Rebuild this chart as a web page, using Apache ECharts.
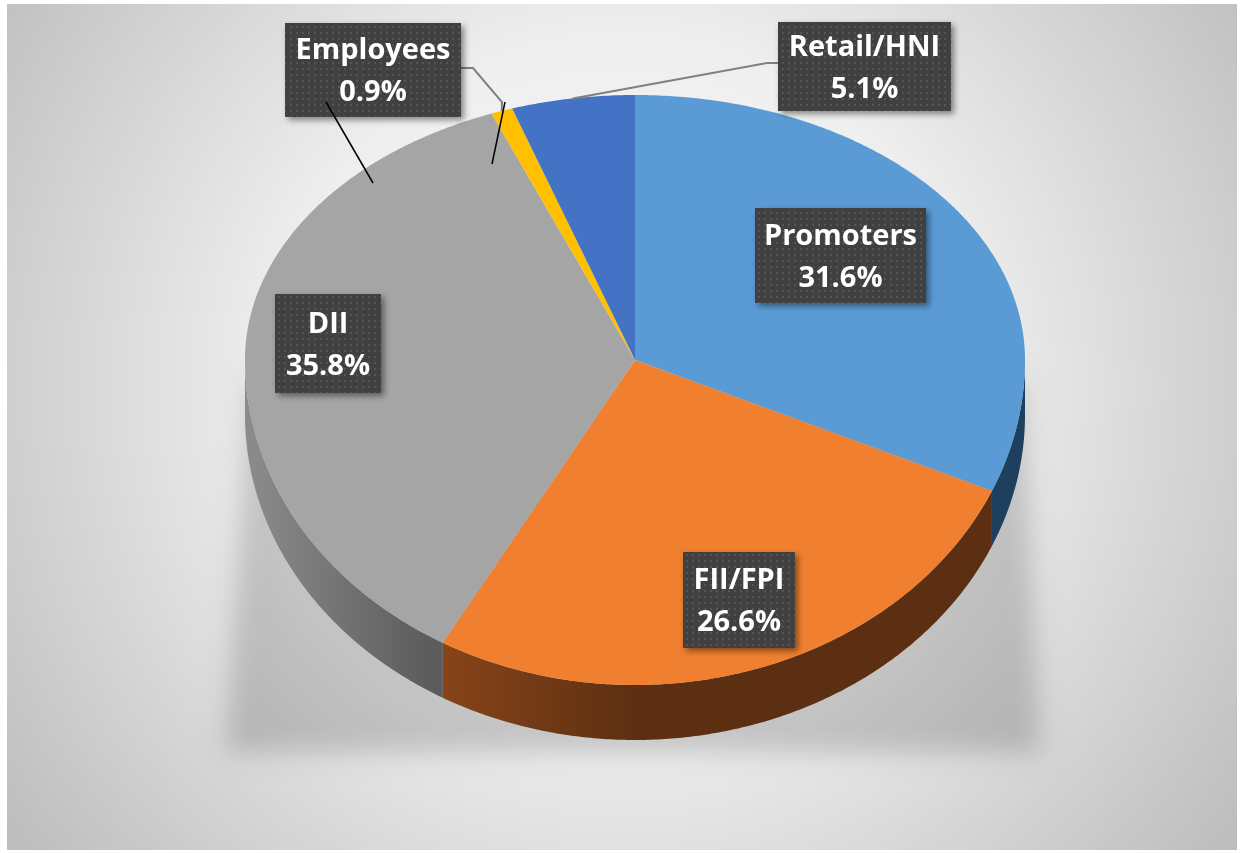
<!DOCTYPE html>
<html><head><meta charset="utf-8">
<script src="https://cdn.jsdelivr.net/npm/echarts@6/dist/echarts.min.js"></script>
<style>html,body{margin:0;padding:0;background:#fff}#c{width:1244px;height:853px}</style>
</head><body><div id="c"></div>
<script>
// ---- data ----
const categories = ['Promoters', 'FII/FPI', 'DII', 'Employees', 'Retail/HNI'];
const shares = [31.6, 26.6, 35.8, 0.9, 5.1];

// ---- styling / layout ----
const topColors = ['#5B9BD5', '#F08030', '#A5A5A5', '#FFC000', '#4472C4'];
const sideColors = [
  '#1F3F5E',
  {type:'linear', x:430, y:0, x2:640, y2:0, global:true, colorStops:[{offset:0,color:'#8A4519'},{offset:1,color:'#5C2F12'}]},
  {type:'linear', x:245, y:0, x2:430, y2:0, global:true, colorStops:[{offset:0,color:'#8C8C8C'},{offset:1,color:'#5C5C5C'}]},
  '#B38600',
  '#2F528F'
];
// label boxes [x, y, w, h] and leader polylines (layout only)
const labelBoxes = [[755,208,171,95],[683,552,112,96],[275,294,106,99],[285,23,176,94],[778,22,173,89]];
const leaders = [null, null, null, [[461,68],[473,68],[502,102]], [[778,63],[767,63]]];

const CX = 635, CY = 360, RX = 390, RY_TOP = 265, RY_BOT = 325, DEPTH = 55;
function pt(deg, dy) {
  const a = deg * Math.PI / 180, s = Math.sin(a);
  return [CX + RX * Math.cos(a), CY + (s < 0 ? RY_TOP : RY_BOT) * s + (dy || 0)];
}
function arc(a1, a2, dy) {
  const pts = [];
  const n = Math.max(2, Math.ceil(Math.abs(a2 - a1) / 0.5));
  for (let i = 0; i <= n; i++) pts.push(pt(a1 + (a2 - a1) * i / n, dy));
  return pts;
}

// dotted pattern for label boxes
const pc = document.createElement('canvas'); pc.width = 6; pc.height = 6;
const g = pc.getContext('2d');
g.fillStyle = '#404040'; g.fillRect(0, 0, 6, 6);
g.fillStyle = '#555555'; g.fillRect(2, 2, 2, 2);

const total = shares.reduce((a, b) => a + b, 0);
const starts = []; let acc = 0;
shares.forEach(v => { starts.push(-90 + acc / total * 360); acc += v; });

function renderItem(params, api) {
  const i = params.dataIndex;
  const v = api.value(0);
  const a1 = starts[i], a2 = a1 + v / total * 360;
  const children = [];
  const s1 = Math.max(a1, 0), s2 = Math.min(a2, 180);
  if (s2 > s1) {
    const top = arc(s1, s2, 0), bot = arc(s2, s1, DEPTH);
    children.push({type:'polygon', z2:0, shape:{points: top.concat(bot)}, style:{fill: sideColors[i], stroke: null}});
  }
  children.push({type:'polygon', z2:1, shape:{points: [[CX, CY]].concat(arc(a1, a2, 0))}, style:{fill: topColors[i], stroke: null}});
  if (leaders[i]) {
    const mid = pt((a1 + a2) / 2, 0);
    children.push({type:'polyline', z2:5, shape:{points: leaders[i].concat([mid])}, style:{stroke:'#808080', lineWidth:2, fill:null}});
  }
  const b = labelBoxes[i];
  children.push({type:'rect', z2:6, shape:{x:b[0], y:b[1], width:b[2], height:b[3]},
    style:{fill:{image: pc, repeat:'repeat'}, shadowBlur:6, shadowOffsetX:3, shadowOffsetY:3, shadowColor:'rgba(0,0,0,0.45)'}});
  children.push({type:'text', z2:7, style:{
    text: categories[i] + '\n' + v.toFixed(1) + '%',
    x: b[0] + b[2] / 2, y: b[1] + b[3] / 2 + 2,
    align:'center', verticalAlign:'middle',
    fill:'#ffffff', font:'bold 29px "Open Sans", sans-serif', lineHeight: 42
  }});
  return {type:'group', children};
}

// soft shadow behind the pie: shape drawn off-canvas, only its blurred shadow is shifted in
const OFF = 3000;
const shadowPts = [[250,380],[1022,380],[1040,752],[226,752]].map(p => [p[0] - OFF, p[1]]);

const chart = echarts.init(document.getElementById('c'), null, {renderer:'canvas'});
chart.setOption({
  animation: false,
  backgroundColor: '#ffffff',
  graphic: [
    {type:'rect', z:-10, shape:{x:7, y:4, width:1230, height:846},
      style:{fill:{type:'radial', x:0.5, y:0.45, r:0.9, colorStops:[
        {offset:0, color:'#f6f6f6'}, {offset:0.45, color:'#efefef'}, {offset:1, color:'#bdbdbd'}]}}},
    {type:'polygon', z:-5, shape:{points: shadowPts},
      style:{fill:'#000', shadowBlur:26, shadowOffsetX: OFF, shadowOffsetY: 0, shadowColor:'rgba(0,0,0,0.17)'}},
    {type:'line', z:100, shape:{x1:326, y1:102, x2:373, y2:183}, style:{stroke:'#000', lineWidth:1.5}},
    {type:'line', z:100, shape:{x1:492, y1:164, x2:505, y2:102}, style:{stroke:'#000', lineWidth:1.5}}
  ],
  series: [{
    type:'custom',
    coordinateSystem:'none',
    renderItem: renderItem,
    data: shares.map((v, i) => ({name: categories[i], value: [v]}))
  }]
});
</script></body></html>
